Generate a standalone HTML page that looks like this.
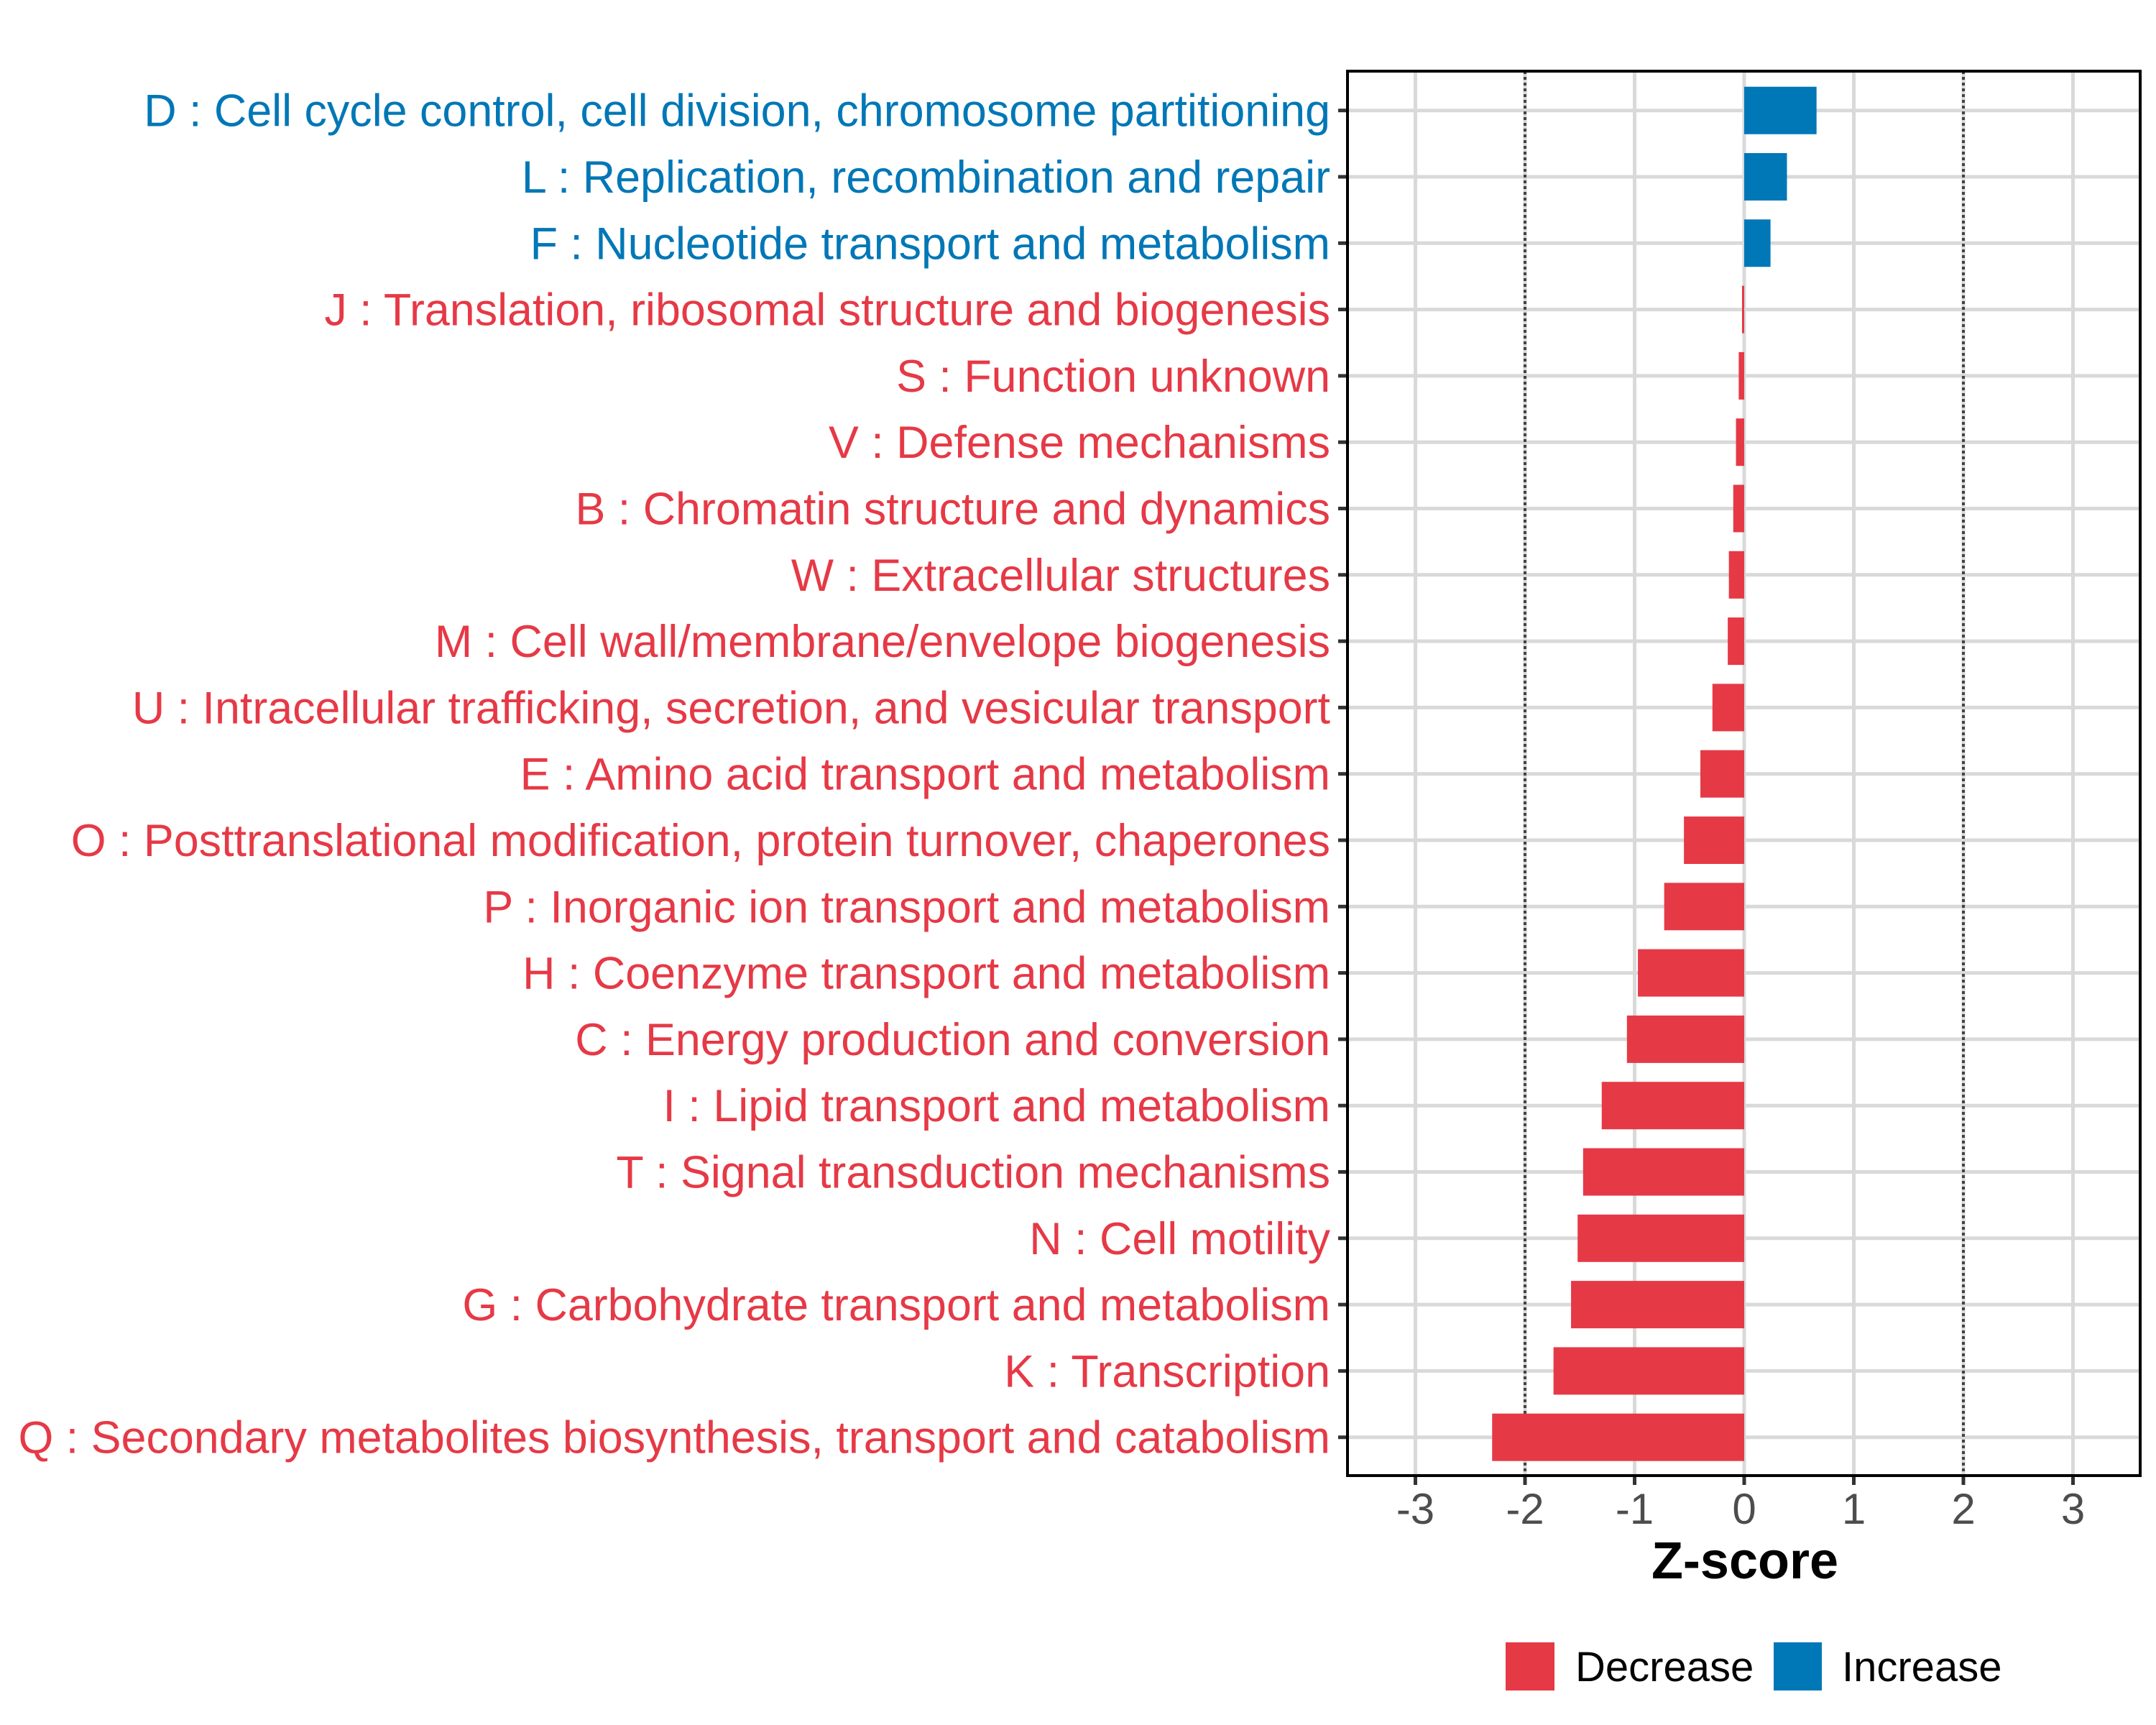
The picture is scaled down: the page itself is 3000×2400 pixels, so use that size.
<!DOCTYPE html>
<html><head><meta charset="utf-8"><style>
html,body{margin:0;padding:0;background:#fff;}
svg{display:block;font-family:"Liberation Sans",Arial,sans-serif;}
</style></head><body>
<svg id="chart" width="3000" height="2400" viewBox="0 0 3000 2400" xmlns="http://www.w3.org/2000/svg">
<rect width="3000" height="2400" fill="#fff"/>
<g id="grid"></g>
<g id="bars"></g>
<g id="ylabels"></g>
<g id="xaxis"></g>
<rect x="1875" y="99" width="1103" height="1954" fill="none" stroke="#000" stroke-width="4"/>
<text x="2428" y="2196" text-anchor="middle" font-size="72" font-weight="bold" fill="#000">Z-score</text>
<g>
<rect x="2095" y="2285" width="68" height="67" fill="#E63946"/>
<text x="2192" y="2339" font-size="58" fill="#000">Decrease</text>
<rect x="2468" y="2285" width="67" height="67" fill="#0077B6"/>
<text x="2563" y="2339" font-size="58" fill="#000">Increase</text>
</g>
</svg>
<script>
const categories = [
"D : Cell cycle control, cell division, chromosome partitioning",
"L : Replication, recombination and repair",
"F : Nucleotide transport and metabolism",
"J : Translation, ribosomal structure and biogenesis",
"S : Function unknown",
"V : Defense mechanisms",
"B : Chromatin structure and dynamics",
"W : Extracellular structures",
"M : Cell wall/membrane/envelope biogenesis",
"U : Intracellular trafficking, secretion, and vesicular transport",
"E : Amino acid transport and metabolism",
"O : Posttranslational modification, protein turnover, chaperones",
"P : Inorganic ion transport and metabolism",
"H : Coenzyme transport and metabolism",
"C : Energy production and conversion",
"I : Lipid transport and metabolism",
"T : Signal transduction mechanisms",
"N : Cell motility",
"G : Carbohydrate transport and metabolism",
"K : Transcription",
"Q : Secondary metabolites biosynthesis, transport and catabolism"
];
const zscores = [0.66, 0.39, 0.24, -0.02, -0.05, -0.075, -0.1, -0.14, -0.15, -0.29, -0.40, -0.55, -0.73, -0.97, -1.07, -1.30, -1.47, -1.52, -1.58, -1.74, -2.30];
const xTicks = [-3, -2, -1, 0, 1, 2, 3];
const xTickLabels = ["-3", "-2", "-1", "0", "1", "2", "3"];
const thresholds = [-2, 2];

const NS = "http://www.w3.org/2000/svg";
const X0 = 2427, UNIT = 152.5;
function xs(v){ return X0 + v*UNIT; }
const ROW0 = 153.7, ROWSTEP = 92.3;
function ys(i){ return ROW0 + i*ROWSTEP; }
const RED = "#E63946", BLUE = "#0077B6";
function mk(tag, attrs, parent){
  const e = document.createElementNS(NS, tag);
  for (const k in attrs) e.setAttribute(k, attrs[k]);
  parent.appendChild(e);
  return e;
}
const grid = document.getElementById("grid");
const bars = document.getElementById("bars");
const ylab = document.getElementById("ylabels");
const xax = document.getElementById("xaxis");

xTicks.forEach((t, i) => {
  const g = mk("line", {x1: xs(t), x2: xs(t), y1: 99, y2: 2053, stroke: "#d9d9d9", "stroke-width": 5}, grid);
  
  
  const tk = mk("line", {x1: xs(t), x2: xs(t), y1: 2053, y2: 2066, stroke: "#333", "stroke-width": 5}, xax);
  
  
  const lb = mk("text", {x: xs(t), y: 2120, "text-anchor": "middle", "font-size": 60, fill: "#4d4d4d"}, xax);
  lb.textContent = xTickLabels[i];
  
  
});
categories.forEach((c, i) => {
  const g = mk("line", {x1: 1875, x2: 2978, y1: ys(i), y2: ys(i), stroke: "#d9d9d9", "stroke-width": 5}, grid);
  
  
});
thresholds.forEach(t => {
  const d = mk("line", {x1: xs(t), x2: xs(t), y1: 99, y2: 2053, stroke: "#444", "stroke-width": 4, "stroke-dasharray": "4 4"}, grid);
  
  
});
categories.forEach((c, i) => {
  const v = zscores[i];
  const col = v >= 0 ? BLUE : RED;
  const x1 = Math.min(xs(0), xs(v)), w = Math.max(Math.abs(xs(v) - xs(0)), 2);
  const b = mk("rect", {x: x1, y: ys(i) - 33, width: w, height: 66, fill: col}, bars);
  
  
  const tk = mk("line", {x1: 1862, x2: 1875, y1: ys(i), y2: ys(i), stroke: "#333", "stroke-width": 5}, ylab);
  
  
  const t = mk("text", {x: 1851, y: ys(i) + 22, "text-anchor": "end", "font-size": 62.8, fill: col}, ylab);
  t.textContent = c;
  
  
});
</script>
</body></html>
